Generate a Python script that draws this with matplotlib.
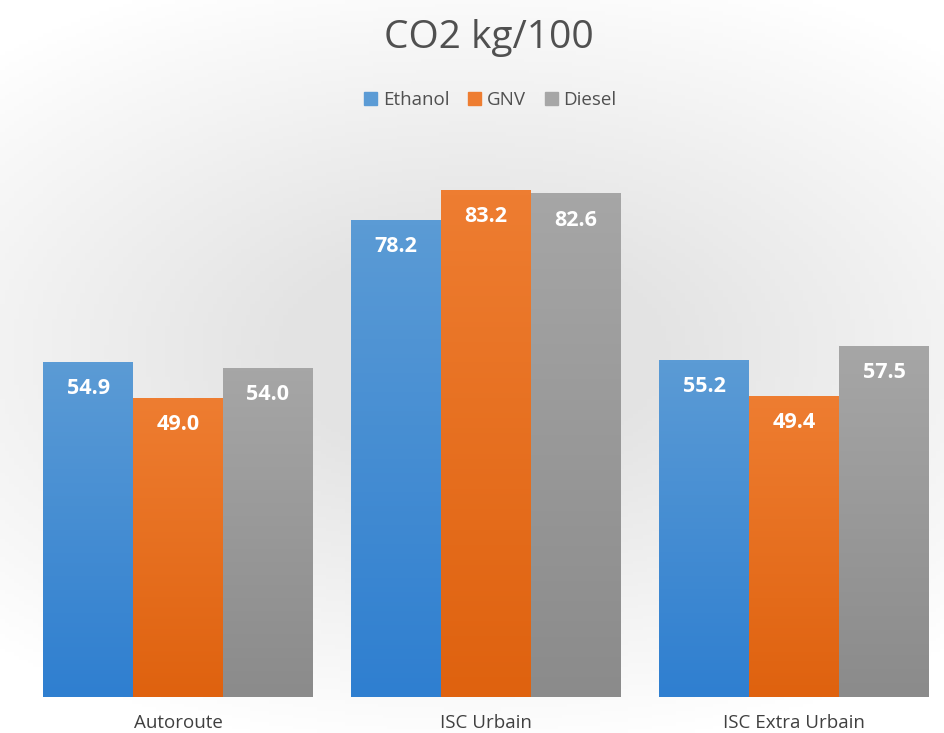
import matplotlib.pyplot as plt
import numpy as np
from matplotlib.colors import LinearSegmentedColormap
from matplotlib.patches import Patch

categories = ["Autoroute", "ISC Urbain", "ISC Extra Urbain"]
series = ["Ethanol", "GNV", "Diesel"]
ethanol = [54.9, 78.2, 55.2]
gnv = [49.0, 83.2, 49.4]
diesel = [54.0, 82.6, 57.5]
values = [ethanol, gnv, diesel]

# top colour, bottom colour for each series
colors = [("#5b9bd5", "#2f7fd0"), ("#ee7d31", "#df620f"), ("#a6a6a6", "#8b8b8b")]

fig = plt.figure(figsize=(9.45, 7.33), dpi=100)

# soft gray background
bg = fig.add_axes([0, 0, 1, 1])
yy, xx = np.mgrid[0:1:200j, 0:1:200j]
r = np.sqrt(((xx - 0.5) / 0.75) ** 2 + ((yy - 0.48) / 0.55) ** 2)
shade = np.clip(1 - r, 0, 1)
bg_cmap = LinearSegmentedColormap.from_list("bg", ["#ffffff", "#e3e3e3"])
bg.imshow(shade, cmap=bg_cmap, aspect="auto", extent=[0, 1, 0, 1], vmin=0, vmax=0.75)
bg.axis("off")

ax = fig.add_axes([0, 36 / 733, 1, (697 - 150) / 733])
ax.patch.set_alpha(0)
ax.set_xlim(-0.578, 2.490)
ax.set_ylim(0, 89.8)
ax.axis("off")

w = 0.292
x = np.arange(len(categories))
for i, s in enumerate(series):
    cmap = LinearSegmentedColormap.from_list(s, [colors[i][1], colors[i][0]])
    grad = np.linspace(0, 1, 100).reshape(-1, 1)
    for j, v in enumerate(values[i]):
        x0 = x[j] + (i - 1) * w - w / 2
        ax.imshow(grad, cmap=cmap, aspect="auto", origin="lower",
                  extent=[x0, x0 + w, 0, v], zorder=2)
        ax.text(x0 + w / 2, v - 4.3, f"{v:.1f}", ha="center", va="center",
                color="white", fontsize=15.5, fontweight="bold",
                family="Open Sans", zorder=3)

for j, c in enumerate(categories):
    ax.text(x[j], -4.2, c, ha="center", va="center", fontsize=13.5,
            color="#404040", family="Open Sans", clip_on=False)

fig.text(0.517, 1 - 38 / 733, "CO2 kg/100", ha="center", va="center",
         fontsize=28, color="#505050", family="Open Sans")

handles = [Patch(color=colors[i][0]) for i in range(3)]
fig.legend(handles, series, loc="center", bbox_to_anchor=(0.519, 1 - 100 / 733),
           ncol=3, frameon=False, handlelength=0.7, handleheight=0.7,
           handletextpad=0.3, columnspacing=1.0,
           prop={"family": "Open Sans", "size": 13.5}, labelcolor="#505050")

plt.savefig("out.png")
